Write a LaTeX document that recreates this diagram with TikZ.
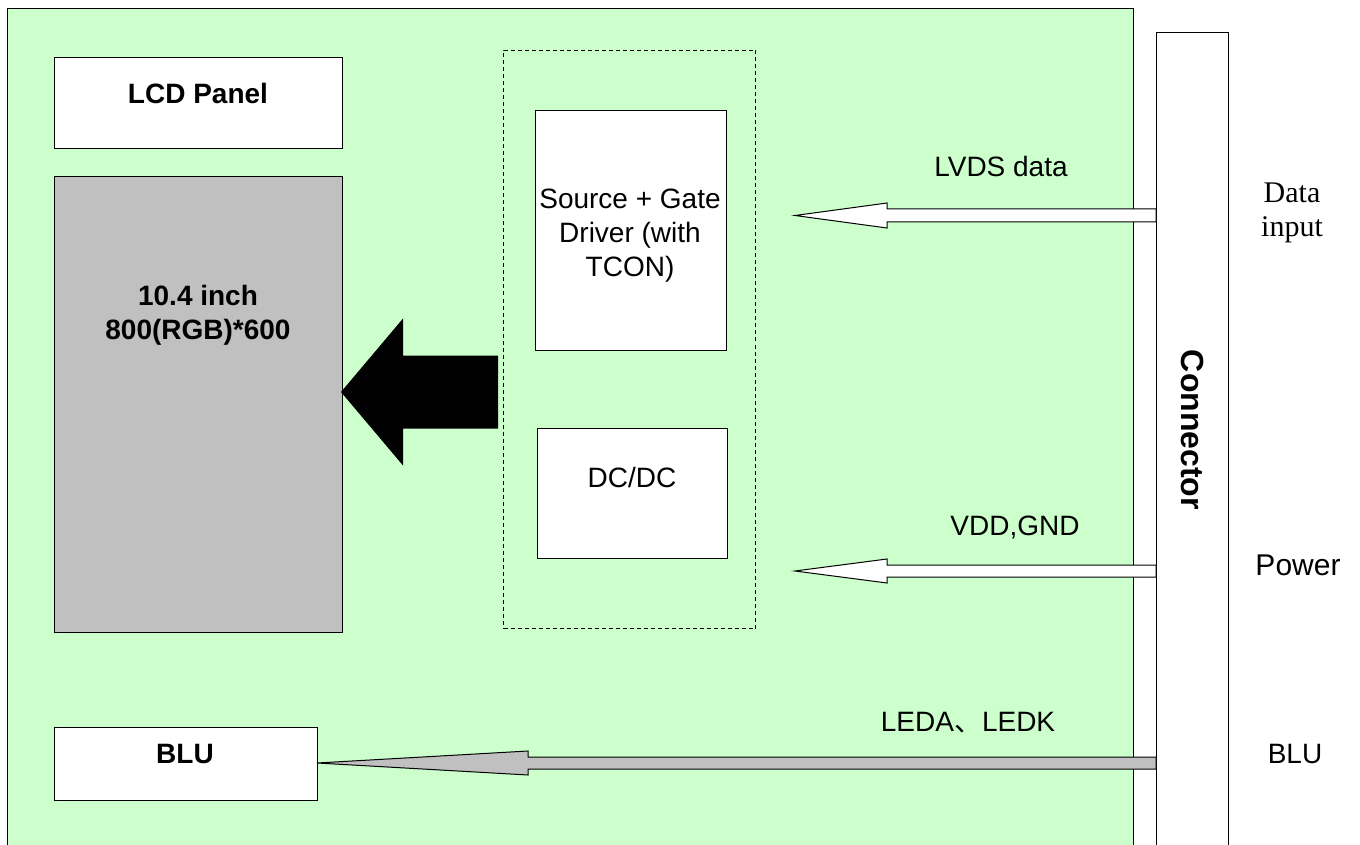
\documentclass[tikz,border=0pt]{standalone}
\usepackage{fontspec}
\setmainfont{Liberation Sans}
\newfontfamily\timesface{Liberation Serif}
\newfontfamily\cjkface{Noto Sans CJK SC}
\usetikzlibrary{positioning}
\definecolor{boardgreen}{RGB}{204,255,204}
\definecolor{panelgray}{RGB}{192,192,192}
\tikzset{
  box/.style={draw, fill=white, inner sep=0pt, anchor=north west},
  txt/.style={font=\fontsize{14}{17}\selectfont, align=center},
  boldtxt/.style={font=\fontsize{14}{17}\selectfont\bfseries, align=center},
  hollow/.style={draw, fill=white, line join=miter},
}
\begin{document}
\begin{tikzpicture}[x=0.5pt,y=-0.5pt, line width=0.5pt]
\useasboundingbox (0,0) rectangle (1360,845);
\clip (0,0) rectangle (1360,845);
% board and connector
\node[box, fill=boardgreen, minimum width=563pt, minimum height=425pt] (board) at (7,8) {};
\node[box, minimum width=36pt, minimum height=415pt] (conn) at (1156,32) {};
% blocks
\node[box, minimum width=144pt, minimum height=45.5pt] (lcd) at (54,57) {};
\node[box, fill=panelgray, minimum width=144pt, minimum height=228pt] (panel) at (54,176) {};
\node[box, fill=none, dash pattern=on 2pt off 1.5pt, minimum width=126pt, minimum height=289pt] (drvframe) at (503,50) {};
\node[box, minimum width=95.5pt, minimum height=120pt] (driver) at (535,110) {};
\node[box, minimum width=95pt, minimum height=65pt] (dcdc) at (537,428) {};
\node[box, minimum width=131.5pt, minimum height=36.5pt] (blubox) at (54,727) {};
% arrow roots
\path (conn.north west) ++(0,183.5) coordinate (lvdsin);
\path (conn.north west) ++(0,539) coordinate (vddin);
\path (conn.north west) ++(0,731) coordinate (bluin);
\path (panel.north east) ++(-2,216) coordinate (bigtip);
% arrows
\draw[hollow] (lvdsin) -- ++(0,-6.5) -- ++(-269,0) -- ++(0,-6) -- ++(-92,12.5) -- ++(92,12.5) -- ++(0,-6) -- ++(269,0) -- cycle;
\draw[hollow] (vddin) -- ++(0,-6) -- ++(-269,0) -- ++(0,-6) -- ++(-92,12) -- ++(92,12) -- ++(0,-6) -- ++(269,0) -- cycle;
\draw[hollow, fill=panelgray] (bluin) -- ++(0,-6) -- ++(-628,0) -- ++(0,-6) -- ++(-211,12) -- ++(211,12) -- ++(0,-6) -- ++(628,0) -- cycle;
\fill[black] (bigtip) -- ++(62,-73.5) -- ++(0,37) -- ++(95,0) -- ++(0,73) -- ++(-95,0) -- ++(0,37) -- cycle;
% texts
\node[boldtxt, anchor=base] (lcdtxt) at (198,104) {LCD Panel};
\node[boldtxt] (paneltxt) at (198,315) {10.4 inch\\800(RGB)*600};
\node[txt] (drivertxt) at (630,236) {Source + Gate\\Driver (with\\TCON)};
\node[txt, anchor=base] (dcdctxt) at (632,487) {DC/DC};
\node[boldtxt, anchor=base] (blutxt) at (185,763) {BLU};
\node[txt, anchor=base] (lvdstxt) at (1001,177) {LVDS data};
\node[txt, anchor=base] (vddtxt) at (1015,535) {VDD,GND};
\node[txt, anchor=base] (ledtxt) at (968,731) {LEDA{\cjkface 、}LEDK};
\node[font=\fontsize{16}{19}\selectfont\bfseries, rotate=-90] (conntxt) at (1193,430) {Connector};
\node[txt, font=\fontsize{15}{17}\timesface] (datatxt) at (1292,213) {Data\\input};
\node[txt, font=\fontsize{15}{17}\selectfont, anchor=base] (powertxt) at (1298,575) {Power};
\node[txt, anchor=base] (blulabel) at (1295,763) {BLU};
\end{tikzpicture}
\end{document}
